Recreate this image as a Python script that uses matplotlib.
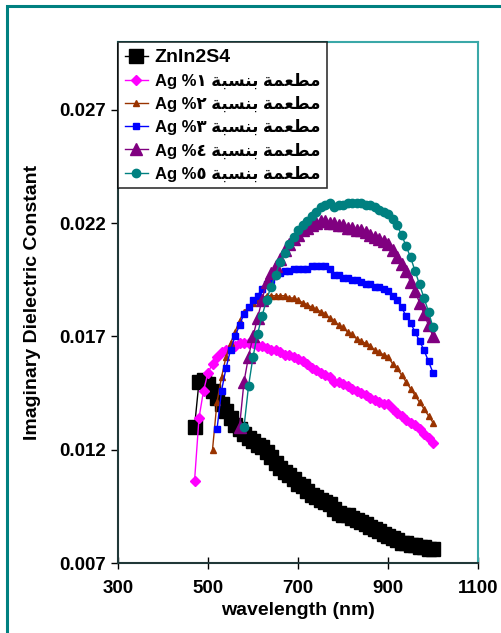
import matplotlib

matplotlib.use("Agg")
import matplotlib.pyplot as plt
from matplotlib.patches import Rectangle

# wavelength grid (nm); every series ends at 1000 nm
wavelength = [470, 480, 490, 500, 510, 520, 530, 540, 550, 560,
              570, 580, 590, 600, 610, 620, 630, 640, 650, 660,
              670, 680, 690, 700, 710, 720, 730, 740, 750, 760,
              770, 780, 790, 800, 810, 820, 830, 840, 850, 860,
              870, 880, 890, 900, 910, 920, 930, 940, 950, 960,
              970, 980, 990, 1000]

eps_pure = [0.0130, 0.0150, 0.0151, 0.0149, 0.0146, 0.0143, 0.0140, 0.0137, 0.0134, 0.0131,
            0.0129, 0.0127, 0.0125, 0.0124, 0.0122, 0.0121, 0.0119, 0.0117, 0.0114, 0.0112,
            0.0110, 0.0109, 0.0107, 0.0105, 0.0104, 0.0102, 0.0100, 0.0099, 0.0098, 0.0097,
            0.0096, 0.0094, 0.0092, 0.0091, 0.0091, 0.0090, 0.0089, 0.0088, 0.0087, 0.0086,
            0.0085, 0.0084, 0.0083, 0.0082, 0.0081, 0.0080, 0.0079, 0.0079, 0.0078, 0.0078,
            0.0077, 0.0077, 0.0076, 0.0076]

eps_ag1 = [0.0106, 0.0134, 0.0146, 0.0154, 0.0158, 0.0161, 0.0163, 0.0164, 0.0165, 0.0166,
           0.0167, 0.0167, 0.0167, 0.0167, 0.0166, 0.0166, 0.0165, 0.0164, 0.0164, 0.0163,
           0.0162, 0.0162, 0.0161, 0.0160, 0.0159, 0.0158, 0.0156, 0.0155, 0.0154, 0.0153,
           0.0152, 0.0150, 0.0150, 0.0149, 0.0148, 0.0147, 0.0146, 0.0145, 0.0144, 0.0143,
           0.0142, 0.0141, 0.0140, 0.0140, 0.0138, 0.0136, 0.0135, 0.0133, 0.0132, 0.0131,
           0.0129, 0.0127, 0.0125, 0.0123]

eps_ag2 = [0.0120, 0.0141, 0.0152, 0.0161, 0.0167, 0.0172,
           0.0177, 0.0181, 0.0183, 0.0185, 0.0186, 0.0187, 0.0188, 0.0188, 0.0188, 0.0188,
           0.0188, 0.0187, 0.0187, 0.0186, 0.0185, 0.0184, 0.0183, 0.0182, 0.0181, 0.0180,
           0.0178, 0.0177, 0.0175, 0.0174, 0.0172, 0.0171, 0.0169, 0.0168, 0.0167, 0.0166,
           0.0164, 0.0163, 0.0162, 0.0161, 0.0158, 0.0156, 0.0153, 0.0150, 0.0147, 0.0144,
           0.0141, 0.0138, 0.0135, 0.0132]

eps_ag3 = [0.0129, 0.0146, 0.0156, 0.0164, 0.0170,
           0.0175, 0.0180, 0.0183, 0.0186, 0.0188, 0.0191, 0.0193, 0.0195, 0.0197, 0.0198,
           0.0199, 0.0199, 0.0200, 0.0200, 0.0200, 0.0200, 0.0201, 0.0201, 0.0201, 0.0201,
           0.0200, 0.0197, 0.0197, 0.0196, 0.0196, 0.0195, 0.0195, 0.0194, 0.0193, 0.0193,
           0.0192, 0.0192, 0.0191, 0.0190, 0.0188, 0.0186, 0.0183, 0.0179, 0.0176, 0.0172,
           0.0168, 0.0164, 0.0159, 0.0154]

eps_ag4 = [0.0130, 0.0150, 0.0161, 0.0170, 0.0178, 0.0186, 0.0194, 0.0198, 0.0201, 0.0204,
           0.0208, 0.0211, 0.0213, 0.0215, 0.0217, 0.0218, 0.0219, 0.0220, 0.0221, 0.0221,
           0.0220, 0.0220, 0.0219, 0.0219, 0.0218, 0.0218, 0.0217, 0.0217, 0.0216, 0.0215,
           0.0214, 0.0213, 0.0212, 0.0211, 0.0208, 0.0205, 0.0202, 0.0199, 0.0194, 0.0190,
           0.0185, 0.0180, 0.0175, 0.0170]

eps_ag5 = [0.0130, 0.0148, 0.0161, 0.0171, 0.0179, 0.0186, 0.0192, 0.0197, 0.0203,
           0.0207, 0.0211, 0.0214, 0.0217, 0.0219, 0.0221, 0.0223, 0.0225, 0.0227, 0.0228,
           0.0229, 0.0227, 0.0228, 0.0228, 0.0229, 0.0229, 0.0229, 0.0229, 0.0228, 0.0228,
           0.0227, 0.0226, 0.0225, 0.0224, 0.0222, 0.0219, 0.0215, 0.0210, 0.0205, 0.0199,
           0.0193, 0.0187, 0.0181, 0.0174]

# Arabic "مطعمة بنسبة" pre-shaped in visual (left-to-right) order
AR = "\uFE94\uFE92\uFEB4\uFEE8\uFE91 \uFE94\uFEE4\uFECC\uFEC4\uFEE3"
DIGITS = ["\u0661", "\u0662", "\u0663", "\u0664", "\u0665"]
labels = ["ZnIn2S4"] + [f"Ag %{d} {AR}" for d in DIGITS]

series = [eps_pure, eps_ag1, eps_ag2, eps_ag3, eps_ag4, eps_ag5]
styles = [
    dict(color="black", marker="s", ms=9.5),
    dict(color="#ff00ff", marker="D", ms=5.5),
    dict(color="#993300", marker="^", ms=5),
    dict(color="#0000ff", marker="s", ms=4.5),
    dict(color="#800080", marker="^", ms=8),
    dict(color="#008080", marker="o", ms=6),
]

FONT = ["Liberation Sans", "DejaVu Sans"]
plt.rcParams["font.family"] = FONT
plt.rcParams["font.weight"] = "bold"

fig = plt.figure(figsize=(5.01, 6.33), dpi=100)
fig.patches.append(Rectangle((7 / 501, -0.05), 1.1, 1 - 6 / 633 + 0.05,
                             transform=fig.transFigure, fill=False,
                             edgecolor="#008080", linewidth=2.2))
ax = fig.add_axes([118 / 501, 1 - 563 / 633, 360 / 501, 521 / 633])

for vals, lab, st in zip(series, labels, styles):
    x = wavelength[len(wavelength) - len(vals):]
    ax.plot(x, vals, color=st["color"], marker=st["marker"], markersize=st["ms"],
            markerfacecolor=st["color"], markeredgecolor=st["color"],
            linewidth=1.0, label=lab)

ax.set_xlim(300, 1100)
ax.set_ylim(0.007, 0.030)
ax.set_xticks([300, 500, 700, 900, 1100])
ax.set_yticks([0.007, 0.012, 0.017, 0.022, 0.027])
ax.set_yticklabels(["0.007", "0.012", "0.017", "0.022", "0.027"])
ax.tick_params(axis="x", direction="inout", length=8, width=1, labelsize=13.5, pad=8)
ax.tick_params(axis="y", direction="out", length=5, width=1, labelsize=13.5, pad=4)
for lab in ax.get_xticklabels() + ax.get_yticklabels():
    lab.set_fontweight("bold")

ax.spines["left"].set_color("#203838")
ax.spines["bottom"].set_color("#203838")
ax.spines["top"].set_color("#3aa8a8")
ax.spines["right"].set_color("#3aa8a8")
for s in ax.spines.values():
    s.set_linewidth(1.5)

ax.set_xlabel("wavelength (nm)", fontsize=14, fontweight="bold", labelpad=4)
ax.set_ylabel("Imaginary Dielectric Constant", fontsize=14, fontweight="bold", labelpad=13)

leg = ax.legend(loc="upper left", bbox_to_anchor=(0, 1), borderaxespad=0,
                frameon=True, fancybox=False, prop=dict(family=FONT, weight="bold", size=12),
                handlelength=1.4, handletextpad=0.4, labelspacing=0.42, borderpad=0.4)
leg.get_texts()[0].set_fontsize(14)
leg.get_frame().set_edgecolor("black")
leg.get_frame().set_linewidth(1.2)

fig.savefig("out.png", dpi=100)
